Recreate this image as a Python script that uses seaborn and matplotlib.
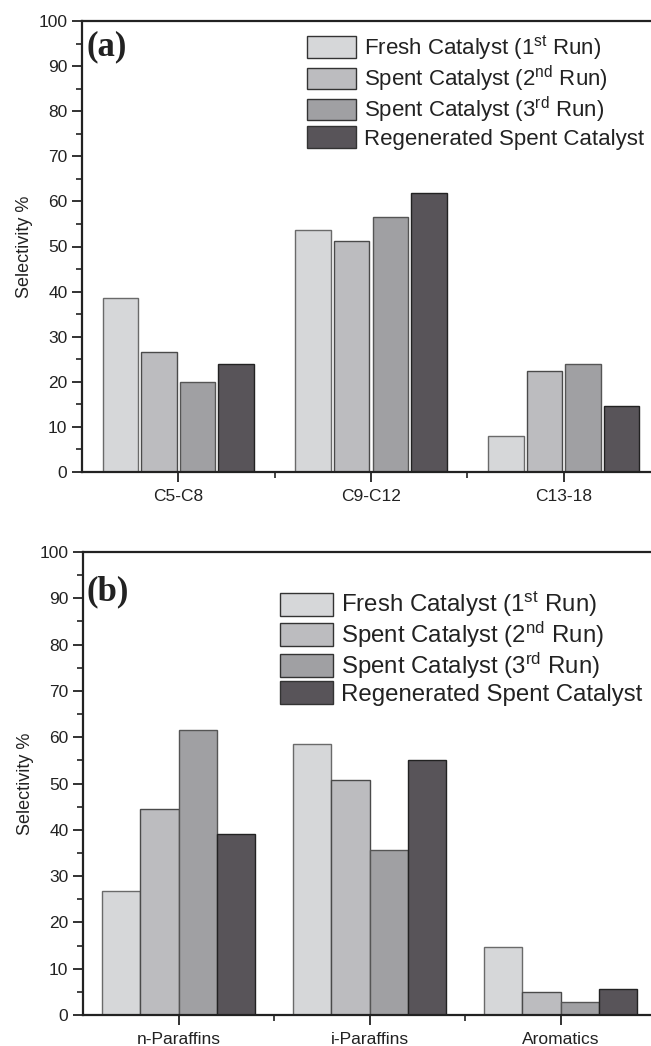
import numpy as np
import pandas as pd
import matplotlib
matplotlib.use("Agg")
import matplotlib.pyplot as plt
from matplotlib.ticker import MultipleLocator, FixedLocator
import seaborn as sns

# ---- data ----
series = ["Fresh Catalyst (1st Run)", "Spent Catalyst (2nd Run)",
          "Spent Catalyst (3rd Run)", "Regenerated Spent Catalyst"]
legend_labels = [r"Fresh Catalyst (1$^{\mathrm{st}}$ Run)",
                 r"Spent Catalyst (2$^{\mathrm{nd}}$ Run)",
                 r"Spent Catalyst (3$^{\mathrm{rd}}$ Run)",
                 "Regenerated Spent Catalyst"]
cats_a = ["C5-C8", "C9-C12", "C13-18"]
fresh_a = [38.6, 53.7, 8.0]
spent2_a = [26.6, 51.3, 22.5]
spent3_a = [19.9, 56.5, 23.9]
regen_a = [23.9, 61.9, 14.6]

cats_b = ["n-Paraffins", "i-Paraffins", "Aromatics"]
fresh_b = [26.8, 58.5, 14.6]
spent2_b = [44.4, 50.8, 4.9]
spent3_b = [61.5, 35.6, 2.8]
regen_b = [39.2, 55.1, 5.7]

colors = ["#d6d7d9", "#bbbcbf", "#9fa0a4", "#58535a"]
edges = ["#6a6a6a", "#4a4a4a", "#555555", "#222222"]

sns.set_style("ticks")
plt.rcParams["font.family"] = ["Liberation Sans", "DejaVu Sans"]
plt.rcParams["mathtext.fontset"] = "custom"
plt.rcParams["mathtext.rm"] = "Liberation Sans"
plt.rcParams["mathtext.it"] = "Liberation Sans:italic"
plt.rcParams["mathtext.bf"] = "Liberation Sans:bold"


def make_df(cats, vals):
    rows = []
    for s, v in zip(series, vals):
        for c, x in zip(cats, v):
            rows.append({"cat": c, "series": s, "val": x})
    return pd.DataFrame(rows)


fig = plt.figure(figsize=(6.51, 10.46), dpi=100)
W, H = 651.0, 1046.0
ax_a = fig.add_axes([82 / W, 1 - 472 / H, (660 - 82) / W, 451 / H])
ax_b = fig.add_axes([83 / W, 1 - 1015 / H, (656 - 83) / W, 463 / H])


def draw(ax, cats, vals, gap, letter, leg_xy, leg_fs, leg_sp, lab_y):
    df = make_df(cats, vals)
    sns.barplot(data=df, x="cat", y="val", hue="series", hue_order=series,
                order=cats, palette=colors, width=0.8, gap=gap,
                linewidth=1.0, edgecolor="#333333", ax=ax, legend=True)
    for cont, ec in zip(ax.containers, edges):
        for p in cont:
            p.set_edgecolor(ec)
    ax.set_xlim(-0.5, 2.5)
    ax.set_ylim(0, 100)
    ax.yaxis.set_major_locator(MultipleLocator(10))
    ax.yaxis.set_minor_locator(MultipleLocator(5))
    ax.xaxis.set_minor_locator(FixedLocator([0.5, 1.5, 2.5]))
    ax.tick_params(axis="both", which="major", direction="out", length=7,
                   width=1.3, labelsize=12.5, color="#222222", labelcolor="#222222")
    ax.tick_params(axis="y", which="minor", direction="out", length=4, width=1.2,
                   color="#222222")
    ax.tick_params(axis="x", which="minor", direction="out", length=4, width=1.2,
                   color="#222222")
    ax.tick_params(axis="x", which="major", pad=5)
    for s in ["left", "bottom", "top"]:
        ax.spines[s].set_visible(True)
        ax.spines[s].set_linewidth(1.6)
        ax.spines[s].set_color("#222222")
    ax.spines["right"].set_visible(False)
    ax.set_xlabel("")
    ax.set_ylabel("Selectivity %", fontsize=13, color="#222222", labelpad=4)
    handles, _ = ax.get_legend_handles_labels()
    ax.legend(handles, legend_labels, loc="upper left", bbox_to_anchor=leg_xy,
              frameon=False, fontsize=leg_fs, borderpad=0, borderaxespad=0,
              handlelength=2.2, handleheight=1.1, handletextpad=0.35,
              labelspacing=leg_sp, labelcolor="#222222")
    ax.text(86 / W, lab_y, letter, transform=fig.transFigure,
            fontfamily="Liberation Serif", fontweight="bold", fontsize=25,
            va="center", ha="left", color="#222222")


draw(ax_a, cats_a, [fresh_a, spent2_a, spent3_a, regen_a], 0.08, "(a)",
     (0.389, 0.973), 16, 0.06, 1 - 47 / H)
draw(ax_b, cats_b, [fresh_b, spent2_b, spent3_b, regen_b], 0.0, "(b)",
     (0.344, 0.918), 17.3, 0.02, 1 - 592 / H)

fig.savefig("out.png", dpi=100)
